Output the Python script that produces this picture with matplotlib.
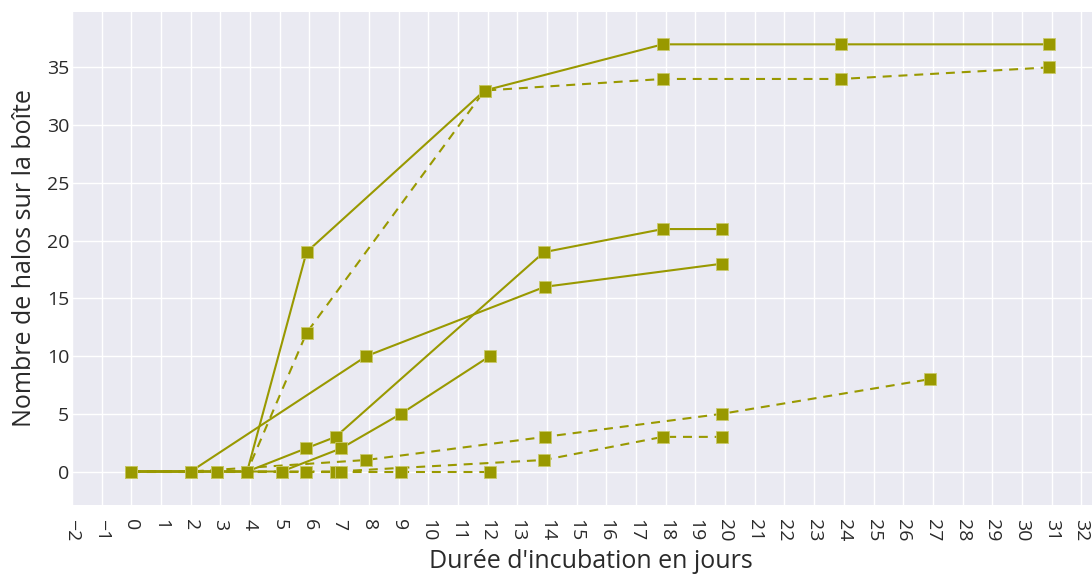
import numpy as np
from matplotlib import pyplot as plt

# jours d'incubation / nombre de halos, une liste par boîte
s1_days = [0, 2.0, 3.9, 5.9, 11.9, 17.9, 23.9, 30.9]
s1_halos = [0, 0, 0, 19, 33, 37, 37, 37]
d1_days = [0, 2.0, 3.9, 5.9, 11.9, 17.9, 23.9, 30.9]
d1_halos = [0, 0, 0, 12, 33, 34, 34, 35]

s2_days = [0, 2.0, 7.92, 13.93, 19.9]
s2_halos = [0, 0, 10, 16, 18]
d2_days = [0, 2.0, 7.92, 13.93, 19.9, 26.9]
d2_halos = [0, 0, 1, 3, 5, 8]

s3_days = [0, 2.0, 2.89, 3.9, 5.88, 6.88, 13.9, 17.9, 19.9]
s3_halos = [0, 0, 0, 0, 2, 3, 19, 21, 21]
d3_days = [0, 2.0, 2.89, 3.9, 5.88, 6.88, 13.9, 17.9, 19.9]
d3_halos = [0, 0, 0, 0, 0, 0, 1, 3, 3]

s4_days = [0, 2.0, 2.89, 5.06, 7.06, 9.08, 12.08]
s4_halos = [0, 0, 0, 0, 2, 5, 10]
d4_days = [0, 2.0, 2.89, 5.06, 7.06, 9.08, 12.08]
d4_halos = [0, 0, 0, 0, 0, 0, 0]

x_ticks = list(range(-2, 33))
y_ticks = [0, 5, 10, 15, 20, 25, 30, 35]

color = '#999900'
bg = '#eaeaf2'
text_color = '#2a2a2a'

plt.rcParams['font.family'] = ['Open Sans', 'DejaVu Sans']

fig = plt.figure(figsize=(10.92, 5.76), dpi=100)
ax = fig.add_axes([72 / 1092, 1 - 505 / 576, 1 - 72 / 1092, 493 / 576])
ax.set_facecolor(bg)

series = [(s1_days, s1_halos, '-'), (d1_days, d1_halos, 'dash'),
          (s2_days, s2_halos, '-'), (d2_days, d2_halos, 'dash'),
          (s3_days, s3_halos, '-'), (d3_days, d3_halos, 'dash'),
          (s4_days, s4_halos, '-'), (d4_days, d4_halos, 'dash')]
for days, halos, style in series:
    ls = (0, (4.3, 3.3)) if style == 'dash' else '-'
    ax.plot(days, halos, color=color, lw=1.5, ls=ls, marker='s', markersize=8.5,
            markerfacecolor=color, markeredgecolor='#c9c96a', markeredgewidth=0.6,
            zorder=3)

ax.set_xlim(-2.0, 32.36)
ax.set_ylim(-2.9, 39.8)
ax.set_xticks(x_ticks)
ax.set_yticks(y_ticks)
ax.grid(True, color='white', lw=1.0)
ax.set_axisbelow(True)
for sp in ax.spines.values():
    sp.set_visible(False)
ax.tick_params(axis='both', length=0, labelsize=14, colors=text_color)
ax.tick_params(axis='x', pad=10, labelrotation=-90)
ax.tick_params(axis='y', pad=2)

ax.set_xlabel("Durée d'incubation en jours", fontsize=18, color=text_color, va='center')
ax.xaxis.set_label_coords(0.509, -57 / 493)
ax.set_ylabel("Nombre de halos sur la boîte", fontsize=18, color=text_color, va='center')
ax.yaxis.set_label_coords(-47 / 1020, 0.5)

fig.savefig('out.png', dpi=100)
